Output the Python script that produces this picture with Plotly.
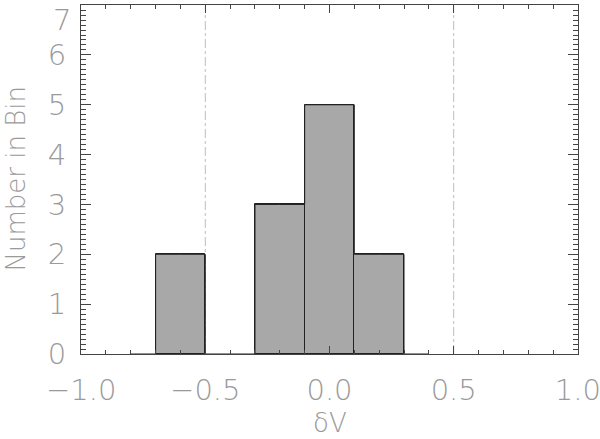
import plotly.graph_objects as go

# histogram bins (centers) and counts
bin_centers = [-0.8, -0.6, -0.4, -0.2, 0.0, 0.2, 0.4]
counts = [0, 2, 0, 3, 5, 2, 0]
bin_width = 0.2
limit_lines = [-0.5, 0.5]

x_ticks = [-1.0, -0.5, 0.0, 0.5, 1.0]
x_labels = ["−1.0", "−0.5", "0.0", "0.5", "1.0"]
y_ticks = [0, 1, 2, 3, 4, 5, 6, 7]
y_labels = ["0", "1", "2", "3", "4", "5", "6", ""]  # top label drawn separately

text_color = "#9a9a9a"
axis_color = "#444444"
font = dict(family="DejaVu Sans", size=29, color=text_color, weight=200)
title_font = dict(family="DejaVu Sans", size=26, color=text_color, weight=200)

fig = go.Figure()

# filled bars (non-empty bins only)
bx = [c for c, n in zip(bin_centers, counts) if n > 0]
by = [n for n in counts if n > 0]
fig.add_trace(go.Bar(
    x=bx, y=by, width=bin_width,
    marker=dict(color="#a8a8a8", line=dict(color="#222222", width=1)),
    showlegend=False, hoverinfo="skip",
))

# psym=10 style outline
fig.add_trace(go.Scatter(
    x=bin_centers, y=counts, mode="lines", line_shape="hvh",
    line=dict(color="#222222", width=1),
    showlegend=False, hoverinfo="skip",
))

for xv in limit_lines:
    fig.add_shape(type="line", x0=xv, x1=xv, y0=0, y1=7, xref="x", yref="y",
                  line=dict(color="#bdbdbd", width=1, dash="dashdot"), layer="below")

# top y label, pushed down so it stays inside the page
fig.add_annotation(text=str(y_ticks[-1]), x=0, y=y_ticks[-1], xref="paper", yref="y",
                   xanchor="right", yanchor="top", xshift=-8, yshift=4,
                   showarrow=False, font=font)
fig.add_annotation(text="δV", x=0.5, y=0, xref="paper", yref="paper",
                   xanchor="center", yanchor="bottom", yshift=-86,
                   showarrow=False, font=title_font)
fig.add_annotation(text="Number in Bin", x=0, y=0.5, xref="paper", yref="paper",
                   xanchor="center", yanchor="middle", xshift=-66, textangle=-90,
                   showarrow=False, font=title_font)

fig.update_layout(
    width=600, height=439,
    margin=dict(l=81, r=22, t=5, b=85),
    plot_bgcolor="white", paper_bgcolor="white",
    bargap=0, font=font,
)
fig.update_xaxes(
    range=[-1.0005, 1.0005], tickvals=x_ticks, ticktext=x_labels,
    ticks="inside", ticklen=8, tickcolor=axis_color, tickwidth=1,
    minor=dict(dtick=0.1, tick0=0, ticks="inside", ticklen=4, tickcolor=axis_color),
    showline=True, linecolor=axis_color, linewidth=1, mirror="ticks",
    showgrid=False, zeroline=False, automargin=False, ticklabelstandoff=10,
    ticklabeloverflow="allow",
)
fig.update_yaxes(
    range=[0, 7.002], tickvals=y_ticks, ticktext=y_labels,
    ticks="inside", ticklen=10, tickcolor=axis_color, tickwidth=1,
    minor=dict(dtick=0.1, tick0=0, ticks="inside", ticklen=5, tickcolor=axis_color),
    showline=True, linecolor=axis_color, linewidth=1, mirror="ticks",
    showgrid=False, zeroline=False, automargin=False, ticklabelstandoff=8,
    ticklabeloverflow="allow",
)

fig.write_html("out.html", config={"displayModeBar": False},
               post_script="document.body.style.margin='0';")
